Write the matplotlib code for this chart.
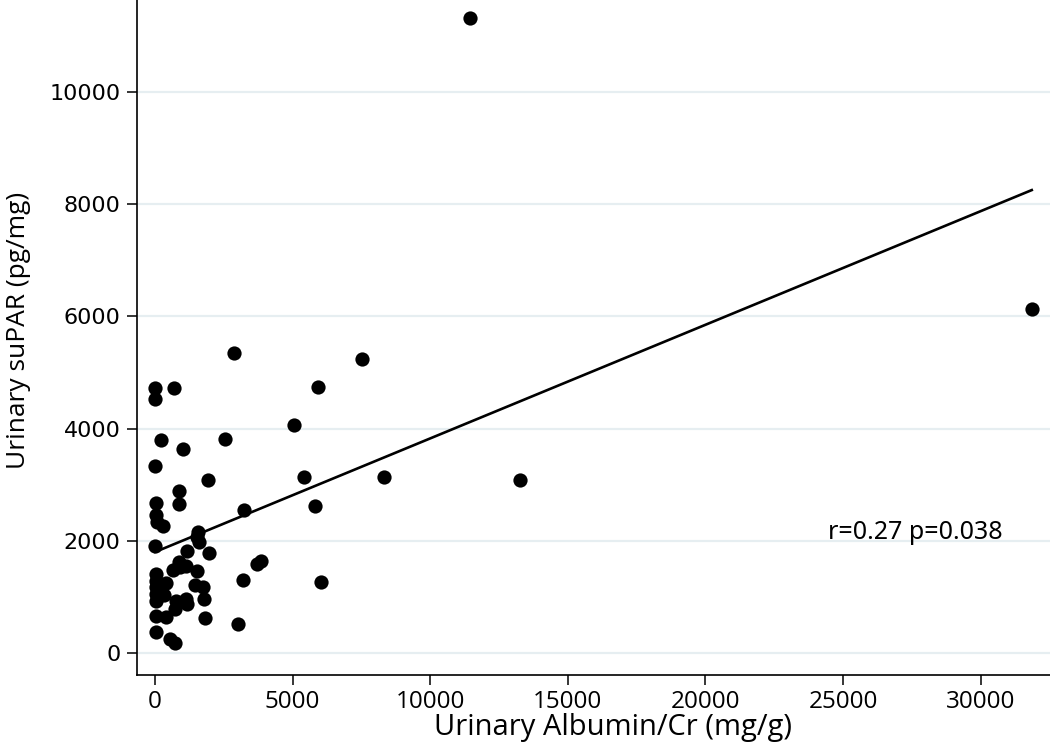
import numpy as np
import matplotlib
matplotlib.use('Agg')
from matplotlib import pyplot as plt


# urinary albumin/creatinine (mg/g) and urinary suPAR (pg/mg)
albumin_cr = [10, 10, 700, 2880, 5940, 5050, 220, 1030, 2550, 10,
              1930, 855, 870, 5400, 5800, 3250, 25, 25, 60, 300,
              1580, 1515, 1605, 10, 1180, 1950, 870, 650, 910, 1125,
              1515, 3690, 3835, 3205, 6040, 35, 35, 35, 35, 35,
              400, 345, 1470, 1760, 1780, 765, 1110, 725, 1150, 35,
              405, 1815, 3015, 30, 555, 745, 11460, 7540, 8330, 13260,
              31860]
supar = [4720, 4530, 4730, 5340, 4750, 4070, 3790, 3630, 3815, 3340,
         3090, 2880, 2650, 3140, 2620, 2545, 2670, 2460, 2340, 2270,
         2160, 2075, 1985, 1905, 1810, 1790, 1630, 1480, 1530, 1550,
         1470, 1590, 1645, 1300, 1260, 1410, 1290, 1175, 1050, 935,
         1240, 1035, 1205, 1180, 965, 925, 960, 785, 875, 660,
         640, 630, 510, 375, 250, 180, 11325, 5240, 3130, 3085,
         6125]

# linear fit shown on the figure
FIT_INTERCEPT = 1800
FIT_SLOPE = 0.2025
STATS_TEXT = 'r=0.27 p=0.038'

x_ticks = [0, 5000, 10000, 15000, 20000, 25000, 30000]
y_ticks = [0, 2000, 4000, 6000, 8000, 10000]

label_font = 'Open Sans'

fig = plt.figure(figsize=(10.5, 7.45), dpi=100)
ax = fig.add_axes([137 / 1050, 70 / 745, 952 / 1050, 690 / 745])

ax.scatter(albumin_cr, supar, s=105, color='black', zorder=3, linewidths=0)
fit_x = np.array([min(albumin_cr), max(albumin_cr)])
ax.plot(fit_x, FIT_INTERCEPT + FIT_SLOPE * fit_x, color='black', lw=1.9, zorder=2)

ax.set_xlim(-654, 33940)
ax.set_ylim(-392, 11907)
ax.set_xticks(x_ticks)
ax.set_yticks(y_ticks)
ax.set_xticklabels([str(v) for v in x_ticks], family=label_font, fontsize=17.5)
ax.set_yticklabels([str(v) for v in y_ticks], family='DejaVu Sans', fontsize=16)
ax.tick_params(axis='both', length=7, width=1.1, color='black')
ax.tick_params(axis='x', pad=4)
ax.tick_params(axis='y', pad=5)

ax.yaxis.grid(True, color='#e6eef1', lw=1.6, zorder=0)
ax.set_axisbelow(True)
for side in ['top', 'right']:
    ax.spines[side].set_visible(False)
for side in ['left', 'bottom']:
    ax.spines[side].set_linewidth(1.2)

ax.set_xlabel('Urinary Albumin/Cr (mg/g)', family=label_font, fontsize=21, labelpad=-1)
ax.set_ylabel('Urinary suPAR (pg/mg)', family=label_font, fontsize=19, labelpad=13)

ax.text(24450, 2150, STATS_TEXT, family='Noto Sans', fontsize=18, va='center', ha='left')

fig.savefig('out.png', dpi=100)
